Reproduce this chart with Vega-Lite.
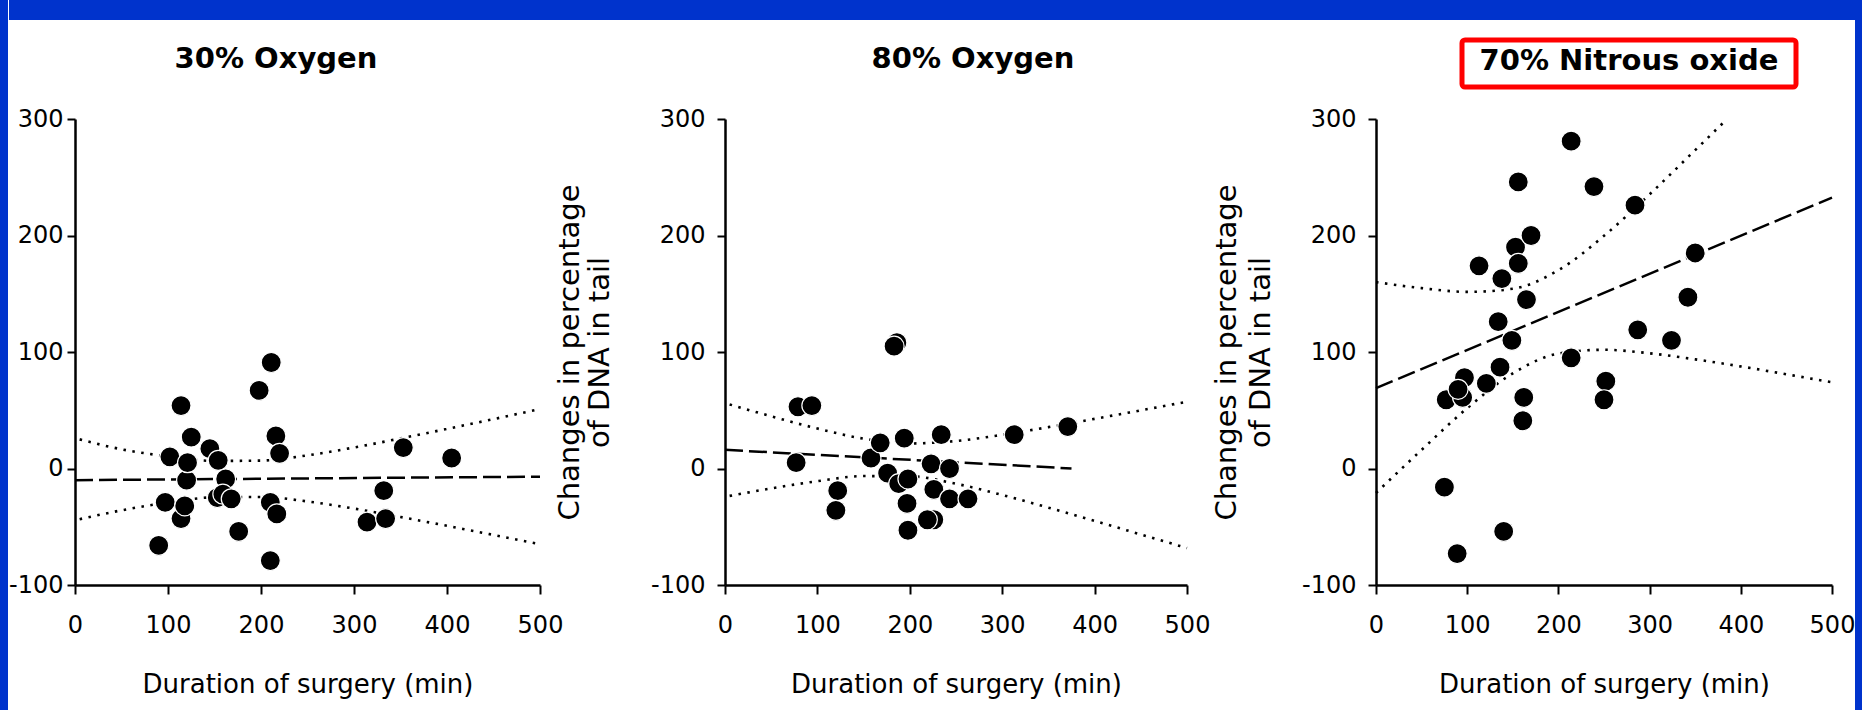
{
  "$schema": "https://vega.github.io/schema/vega-lite/v6.json",
  "padding": 0,
  "background": "white",
  "config": {
    "view": {"stroke": null},
    "axis": {"grid": false, "domainColor": "black", "tickColor": "black", "labelColor": "black", "titleColor": "black", "labelFont": "DejaVu Sans", "titleFont": "DejaVu Sans", "labelFontSize": 24, "titleFontSize": 26, "titleFontWeight": "normal", "domainWidth": 2.5, "tickWidth": 2, "tickSize": 8, "labelFlush": false, "labelOverlap": false}
  },
  "datasets": {
    "pts": [
      {"g": "30% Oxygen", "duration": 90, "change": -66},
      {"g": "30% Oxygen", "duration": 97, "change": -29},
      {"g": "30% Oxygen", "duration": 102, "change": 10},
      {"g": "30% Oxygen", "duration": 114, "change": 54},
      {"g": "30% Oxygen", "duration": 114, "change": -43},
      {"g": "30% Oxygen", "duration": 118, "change": -32},
      {"g": "30% Oxygen", "duration": 120, "change": -10},
      {"g": "30% Oxygen", "duration": 121, "change": 5},
      {"g": "30% Oxygen", "duration": 125, "change": 27},
      {"g": "30% Oxygen", "duration": 145, "change": 17},
      {"g": "30% Oxygen", "duration": 154, "change": 7},
      {"g": "30% Oxygen", "duration": 162, "change": -9},
      {"g": "30% Oxygen", "duration": 153, "change": -25},
      {"g": "30% Oxygen", "duration": 159, "change": -22},
      {"g": "30% Oxygen", "duration": 168, "change": -26},
      {"g": "30% Oxygen", "duration": 176, "change": -54},
      {"g": "30% Oxygen", "duration": 198, "change": 67},
      {"g": "30% Oxygen", "duration": 211, "change": 91},
      {"g": "30% Oxygen", "duration": 216, "change": 28},
      {"g": "30% Oxygen", "duration": 220, "change": 13},
      {"g": "30% Oxygen", "duration": 210, "change": -29},
      {"g": "30% Oxygen", "duration": 217, "change": -39},
      {"g": "30% Oxygen", "duration": 210, "change": -79},
      {"g": "30% Oxygen", "duration": 314, "change": -46},
      {"g": "30% Oxygen", "duration": 332, "change": -19},
      {"g": "30% Oxygen", "duration": 334, "change": -43},
      {"g": "30% Oxygen", "duration": 353, "change": 18},
      {"g": "30% Oxygen", "duration": 405, "change": 9},
      {"g": "80% Oxygen", "duration": 79, "change": 53},
      {"g": "80% Oxygen", "duration": 94, "change": 54},
      {"g": "80% Oxygen", "duration": 77, "change": 5},
      {"g": "80% Oxygen", "duration": 122, "change": -19},
      {"g": "80% Oxygen", "duration": 120, "change": -36},
      {"g": "80% Oxygen", "duration": 158, "change": 9},
      {"g": "80% Oxygen", "duration": 168, "change": 22},
      {"g": "80% Oxygen", "duration": 176, "change": -4},
      {"g": "80% Oxygen", "duration": 188, "change": -13},
      {"g": "80% Oxygen", "duration": 198, "change": -9},
      {"g": "80% Oxygen", "duration": 194, "change": 26},
      {"g": "80% Oxygen", "duration": 197, "change": -30},
      {"g": "80% Oxygen", "duration": 198, "change": -53},
      {"g": "80% Oxygen", "duration": 186, "change": 108},
      {"g": "80% Oxygen", "duration": 183, "change": 105},
      {"g": "80% Oxygen", "duration": 223, "change": 4},
      {"g": "80% Oxygen", "duration": 226, "change": -18},
      {"g": "80% Oxygen", "duration": 226, "change": -44},
      {"g": "80% Oxygen", "duration": 219, "change": -44},
      {"g": "80% Oxygen", "duration": 243, "change": 0},
      {"g": "80% Oxygen", "duration": 243, "change": -26},
      {"g": "80% Oxygen", "duration": 263, "change": -26},
      {"g": "80% Oxygen", "duration": 234, "change": 29},
      {"g": "80% Oxygen", "duration": 313, "change": 29},
      {"g": "80% Oxygen", "duration": 371, "change": 36},
      {"g": "70% Nitrous oxide", "duration": 75, "change": -16},
      {"g": "70% Nitrous oxide", "duration": 89, "change": -73},
      {"g": "70% Nitrous oxide", "duration": 77, "change": 59},
      {"g": "70% Nitrous oxide", "duration": 95, "change": 61},
      {"g": "70% Nitrous oxide", "duration": 97, "change": 78},
      {"g": "70% Nitrous oxide", "duration": 90, "change": 68},
      {"g": "70% Nitrous oxide", "duration": 113, "change": 174},
      {"g": "70% Nitrous oxide", "duration": 121, "change": 73},
      {"g": "70% Nitrous oxide", "duration": 136, "change": 87},
      {"g": "70% Nitrous oxide", "duration": 134, "change": 126},
      {"g": "70% Nitrous oxide", "duration": 138, "change": 163},
      {"g": "70% Nitrous oxide", "duration": 140, "change": -54},
      {"g": "70% Nitrous oxide", "duration": 149, "change": 110},
      {"g": "70% Nitrous oxide", "duration": 153, "change": 190},
      {"g": "70% Nitrous oxide", "duration": 156, "change": 176},
      {"g": "70% Nitrous oxide", "duration": 156, "change": 246},
      {"g": "70% Nitrous oxide", "duration": 165, "change": 145},
      {"g": "70% Nitrous oxide", "duration": 162, "change": 61},
      {"g": "70% Nitrous oxide", "duration": 161, "change": 41},
      {"g": "70% Nitrous oxide", "duration": 170, "change": 200},
      {"g": "70% Nitrous oxide", "duration": 214, "change": 281},
      {"g": "70% Nitrous oxide", "duration": 214, "change": 95},
      {"g": "70% Nitrous oxide", "duration": 239, "change": 242},
      {"g": "70% Nitrous oxide", "duration": 252, "change": 75},
      {"g": "70% Nitrous oxide", "duration": 250, "change": 59},
      {"g": "70% Nitrous oxide", "duration": 284, "change": 226},
      {"g": "70% Nitrous oxide", "duration": 287, "change": 119},
      {"g": "70% Nitrous oxide", "duration": 324, "change": 110},
      {"g": "70% Nitrous oxide", "duration": 342, "change": 147},
      {"g": "70% Nitrous oxide", "duration": 350, "change": 185}
    ],
    "fits": [
      {"g": "30% Oxygen", "s": "fit", "duration": 0, "change": -10},
      {"g": "30% Oxygen", "s": "fit", "duration": 500, "change": -7},
      {"g": "30% Oxygen", "s": "upper", "duration": 5, "change": 25},
      {"g": "30% Oxygen", "s": "upper", "duration": 50, "change": 16.5},
      {"g": "30% Oxygen", "s": "upper", "duration": 100, "change": 10.4},
      {"g": "30% Oxygen", "s": "upper", "duration": 150, "change": 6.5},
      {"g": "30% Oxygen", "s": "upper", "duration": 200, "change": 6.8},
      {"g": "30% Oxygen", "s": "upper", "duration": 250, "change": 11.3},
      {"g": "30% Oxygen", "s": "upper", "duration": 300, "change": 18},
      {"g": "30% Oxygen", "s": "upper", "duration": 350, "change": 25.8},
      {"g": "30% Oxygen", "s": "upper", "duration": 400, "change": 34},
      {"g": "30% Oxygen", "s": "upper", "duration": 450, "change": 42.4},
      {"g": "30% Oxygen", "s": "upper", "duration": 500, "change": 51},
      {"g": "30% Oxygen", "s": "lower", "duration": 5, "change": -43.5},
      {"g": "30% Oxygen", "s": "lower", "duration": 50, "change": -35.9},
      {"g": "30% Oxygen", "s": "lower", "duration": 100, "change": -29.2},
      {"g": "30% Oxygen", "s": "lower", "duration": 150, "change": -24.7},
      {"g": "30% Oxygen", "s": "lower", "duration": 200, "change": -24.4},
      {"g": "30% Oxygen", "s": "lower", "duration": 250, "change": -28.3},
      {"g": "30% Oxygen", "s": "lower", "duration": 300, "change": -34.4},
      {"g": "30% Oxygen", "s": "lower", "duration": 350, "change": -41.6},
      {"g": "30% Oxygen", "s": "lower", "duration": 400, "change": -49.2},
      {"g": "30% Oxygen", "s": "lower", "duration": 450, "change": -57},
      {"g": "30% Oxygen", "s": "lower", "duration": 500, "change": -65},
      {"g": "80% Oxygen", "s": "fit", "duration": 0, "change": 16},
      {"g": "80% Oxygen", "s": "fit", "duration": 375, "change": 0},
      {"g": "80% Oxygen", "s": "upper", "duration": 5, "change": 55},
      {"g": "80% Oxygen", "s": "upper", "duration": 50, "change": 44.8},
      {"g": "80% Oxygen", "s": "upper", "duration": 100, "change": 34.3},
      {"g": "80% Oxygen", "s": "upper", "duration": 150, "change": 25.6},
      {"g": "80% Oxygen", "s": "upper", "duration": 200, "change": 21.5},
      {"g": "80% Oxygen", "s": "upper", "duration": 250, "change": 23.6},
      {"g": "80% Oxygen", "s": "upper", "duration": 300, "change": 28.9},
      {"g": "80% Oxygen", "s": "upper", "duration": 350, "change": 35.5},
      {"g": "80% Oxygen", "s": "upper", "duration": 400, "change": 42.6},
      {"g": "80% Oxygen", "s": "upper", "duration": 450, "change": 49.9},
      {"g": "80% Oxygen", "s": "upper", "duration": 500, "change": 57.3},
      {"g": "80% Oxygen", "s": "lower", "duration": 5, "change": -23.5},
      {"g": "80% Oxygen", "s": "lower", "duration": 50, "change": -17.1},
      {"g": "80% Oxygen", "s": "lower", "duration": 100, "change": -10.9},
      {"g": "80% Oxygen", "s": "lower", "duration": 150, "change": -6.5},
      {"g": "80% Oxygen", "s": "lower", "duration": 200, "change": -6.7},
      {"g": "80% Oxygen", "s": "lower", "duration": 250, "change": -13.1},
      {"g": "80% Oxygen", "s": "lower", "duration": 300, "change": -22.7},
      {"g": "80% Oxygen", "s": "lower", "duration": 350, "change": -33.6},
      {"g": "80% Oxygen", "s": "lower", "duration": 400, "change": -45},
      {"g": "80% Oxygen", "s": "lower", "duration": 450, "change": -56.6},
      {"g": "80% Oxygen", "s": "lower", "duration": 500, "change": -68.3},
      {"g": "70% Nitrous oxide", "s": "fit", "duration": 0, "change": 69},
      {"g": "70% Nitrous oxide", "s": "fit", "duration": 500, "change": 232.5},
      {"g": "70% Nitrous oxide", "s": "upper", "duration": 0, "change": 160},
      {"g": "70% Nitrous oxide", "s": "upper", "duration": 50, "change": 154.8},
      {"g": "70% Nitrous oxide", "s": "upper", "duration": 100, "change": 151.6},
      {"g": "70% Nitrous oxide", "s": "upper", "duration": 150, "change": 154.3},
      {"g": "70% Nitrous oxide", "s": "upper", "duration": 200, "change": 170.2},
      {"g": "70% Nitrous oxide", "s": "upper", "duration": 250, "change": 199.7},
      {"g": "70% Nitrous oxide", "s": "upper", "duration": 300, "change": 235.3},
      {"g": "70% Nitrous oxide", "s": "upper", "duration": 350, "change": 273.3},
      {"g": "70% Nitrous oxide", "s": "upper", "duration": 385, "change": 300},
      {"g": "70% Nitrous oxide", "s": "lower", "duration": 0, "change": -21},
      {"g": "70% Nitrous oxide", "s": "lower", "duration": 50, "change": 16},
      {"g": "70% Nitrous oxide", "s": "lower", "duration": 100, "change": 51.8},
      {"g": "70% Nitrous oxide", "s": "lower", "duration": 150, "change": 81.7},
      {"g": "70% Nitrous oxide", "s": "lower", "duration": 200, "change": 98.6},
      {"g": "70% Nitrous oxide", "s": "lower", "duration": 250, "change": 101.9},
      {"g": "70% Nitrous oxide", "s": "lower", "duration": 300, "change": 98.9},
      {"g": "70% Nitrous oxide", "s": "lower", "duration": 350, "change": 93.7},
      {"g": "70% Nitrous oxide", "s": "lower", "duration": 400, "change": 87.6},
      {"g": "70% Nitrous oxide", "s": "lower", "duration": 450, "change": 80.9},
      {"g": "70% Nitrous oxide", "s": "lower", "duration": 500, "change": 74}
    ]
  },
  "spacing": 0,
  "hconcat": [
    {"width": 8, "height": 710, "data": {"values": [{}]}, "mark": {"type": "point", "opacity": 0}, "view": {"fill": "#0033cc", "stroke": null}},
    {
      "spacing": 17,
      "vconcat": [
        {"width": 1846, "height": 20, "data": {"values": [{}]}, "mark": {"type": "point", "opacity": 0}, "view": {"fill": "#0033cc", "stroke": null}},
        {
          "spacing": 0,
          "bounds": "flush",
          "hconcat": [
            {"width": 92, "height": 47, "data": {"values": [{}]}, "mark": {"type": "point", "opacity": 0}},
            {"width": 350, "height": 47, "data": {"values": [{"t": "30% Oxygen"}]}, "mark": {"type": "text", "font": "DejaVu Sans", "fontSize": 29, "fontWeight": "bold", "dy": -5, "color": "black"}, "encoding": {"text": {"field": "t"}}},
            {"width": 347, "height": 47, "data": {"values": [{}]}, "mark": {"type": "point", "opacity": 0}},
            {"width": 350, "height": 47, "data": {"values": [{"t": "80% Oxygen"}]}, "mark": {"type": "text", "font": "DejaVu Sans", "fontSize": 29, "fontWeight": "bold", "dy": -5, "color": "black"}, "encoding": {"text": {"field": "t"}}},
            {"width": 314, "height": 47, "data": {"values": [{}]}, "mark": {"type": "point", "opacity": 0}},
            {"width": 334, "height": 47, "data": {"values": [{"t": "70% Nitrous oxide"}]}, "view": {"fill": "white", "stroke": "#ff0000", "strokeWidth": 5, "cornerRadius": 3}, "mark": {"type": "text", "font": "DejaVu Sans", "fontSize": 29, "fontWeight": "bold", "dy": -3, "color": "black"}, "encoding": {"text": {"field": "t"}}}
          ]
        },
        {
          "spacing": 0,
          "bounds": "flush",
          "hconcat": [
            {"width": 66, "height": 10, "data": {"values": [{}]}, "mark": {"type": "point", "opacity": 0}},
            {
              "width": 465, "height": 466,
              "encoding": {
                "x": {"field": "duration", "type": "quantitative", "scale": {"domain": [0, 500], "nice": false, "zero": false}, "axis": {"values": [0, 100, 200, 300, 400, 500], "title": "Duration of surgery (min)", "tickSize": 9, "labelPadding": 19, "titlePadding": 34}},
                "y": {"field": "change", "type": "quantitative", "scale": {"domain": [-100, 300], "nice": false, "zero": false}, "axis": {"values": [-100, 0, 100, 200, 300], "title": null, "labelPadding": 4, "labelExpr": "datum.value < 0 ? '-' + abs(datum.value) : '' + datum.value"}}
              },
              "layer": [
                {"data": {"name": "fits"}, "transform": [{"filter": "datum.g === '30% Oxygen' && datum.s === 'fit'"}], "mark": {"type": "line", "color": "black", "strokeWidth": 2.5, "strokeDash": [18, 6]}},
                {"data": {"name": "fits"}, "transform": [{"filter": "datum.g === '30% Oxygen' && datum.s !== 'fit'"}], "mark": {"type": "line", "color": "black", "strokeWidth": 2.6, "strokeDash": [2.5, 6.5], "interpolate": "monotone"}, "encoding": {"detail": {"field": "s"}}},
                {"data": {"name": "pts"}, "transform": [{"filter": "datum.g === '30% Oxygen'"}], "mark": {"type": "circle", "size": 400, "fill": "black", "stroke": "white", "strokeWidth": 1.2, "fillOpacity": 1, "strokeOpacity": 1}}
              ]
            },
            {"width": 185, "height": 10, "data": {"values": [{}]}, "mark": {"type": "point", "opacity": 0}},
            {
              "width": 462, "height": 466,
              "encoding": {
                "x": {"field": "duration", "type": "quantitative", "scale": {"domain": [0, 500], "nice": false, "zero": false}, "axis": {"values": [0, 100, 200, 300, 400, 500], "title": "Duration of surgery (min)", "tickSize": 9, "labelPadding": 19, "titlePadding": 34}},
                "y": {"field": "change", "type": "quantitative", "scale": {"domain": [-100, 300], "nice": false, "zero": false}, "axis": {"values": [-100, 0, 100, 200, 300], "title": ["Changes in percentage", "of DNA in tail"], "titleFontSize": 29, "titleLineHeight": 30, "titlePadding": 36, "labelPadding": 12, "labelExpr": "datum.value < 0 ? '-' + abs(datum.value) : '' + datum.value"}}
              },
              "layer": [
                {"data": {"name": "fits"}, "transform": [{"filter": "datum.g === '80% Oxygen' && datum.s === 'fit'"}], "mark": {"type": "line", "color": "black", "strokeWidth": 2.5, "strokeDash": [18, 6]}},
                {"data": {"name": "fits"}, "transform": [{"filter": "datum.g === '80% Oxygen' && datum.s !== 'fit'"}], "mark": {"type": "line", "color": "black", "strokeWidth": 2.6, "strokeDash": [2.5, 6.5], "interpolate": "monotone"}, "encoding": {"detail": {"field": "s"}}},
                {"data": {"name": "pts"}, "transform": [{"filter": "datum.g === '80% Oxygen'"}], "mark": {"type": "circle", "size": 400, "fill": "black", "stroke": "white", "strokeWidth": 1.2, "fillOpacity": 1, "strokeOpacity": 1}}
              ]
            },
            {"width": 189, "height": 10, "data": {"values": [{}]}, "mark": {"type": "point", "opacity": 0}},
            {
              "width": 456, "height": 466,
              "encoding": {
                "x": {"field": "duration", "type": "quantitative", "scale": {"domain": [0, 500], "nice": false, "zero": false}, "axis": {"values": [0, 100, 200, 300, 400, 500], "title": "Duration of surgery (min)", "tickSize": 9, "labelPadding": 19, "titlePadding": 34}},
                "y": {"field": "change", "type": "quantitative", "scale": {"domain": [-100, 300], "nice": false, "zero": false}, "axis": {"values": [-100, 0, 100, 200, 300], "title": ["Changes in percentage", "of DNA in tail"], "titleFontSize": 29, "titleLineHeight": 34, "titlePadding": 26, "labelPadding": 12, "labelExpr": "datum.value < 0 ? '-' + abs(datum.value) : '' + datum.value"}}
              },
              "layer": [
                {"data": {"name": "fits"}, "transform": [{"filter": "datum.g === '70% Nitrous oxide' && datum.s === 'fit'"}], "mark": {"type": "line", "color": "black", "strokeWidth": 2.5, "strokeDash": [18, 6]}},
                {"data": {"name": "fits"}, "transform": [{"filter": "datum.g === '70% Nitrous oxide' && datum.s !== 'fit'"}], "mark": {"type": "line", "color": "black", "strokeWidth": 2.6, "strokeDash": [2.5, 6.5], "interpolate": "monotone"}, "encoding": {"detail": {"field": "s"}}},
                {"data": {"name": "pts"}, "transform": [{"filter": "datum.g === '70% Nitrous oxide'"}], "mark": {"type": "circle", "size": 400, "fill": "black", "stroke": "white", "strokeWidth": 1.2, "fillOpacity": 1, "strokeOpacity": 1}}
              ]
            }
          ]
        }
      ]
    },
    {"width": 8, "height": 710, "data": {"values": [{}]}, "mark": {"type": "point", "opacity": 0}, "view": {"fill": "#0033cc", "stroke": null}}
  ]
}
